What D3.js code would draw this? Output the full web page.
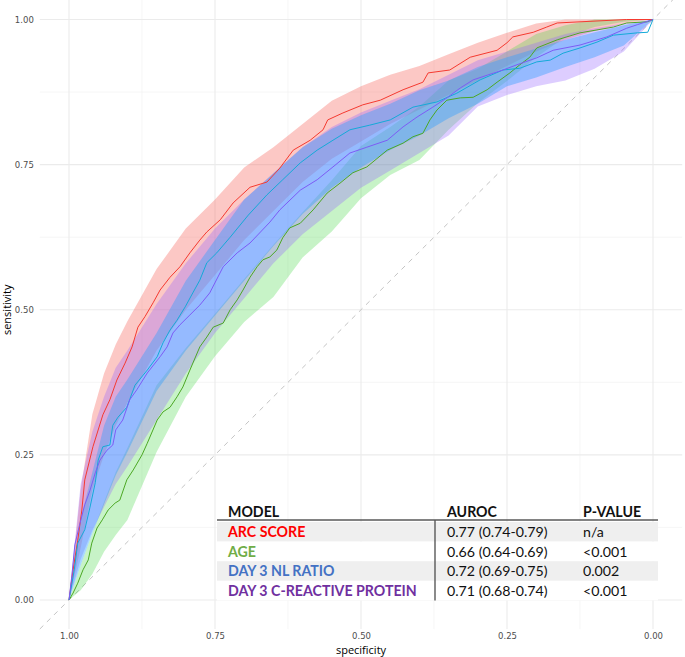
<!DOCTYPE html>
<html>
<head>
<meta charset="utf-8">
<script src="https://cdn.jsdelivr.net/npm/d3@7"></script>
<style>
  body { margin: 0; background: #fff; }
  svg { display: block; }
</style>
</head>
<body>
<svg id="chart" width="685" height="657"></svg>
<script>
// ROC curves (specificity, sensitivity)
const arcSpec = [1, .993, .985, .978, .973, .959, .942, .930, .918, .904, .892, .882, .870, .856, .844, .827, .810, .793, .776, .764, .741, .719, .690, .661, .639, .616, .587, .565, .557, .531, .497, .467, .428, .394, .385, .348, .313, .267, .250, .240, .205, .182, .164, .125, .045, 0];
const arcSens = [0, .052, .103, .155, .207, .264, .319, .345, .379, .408, .436, .470, .488, .512, .534, .556, .574, .598, .620, .634, .655, .684, .711, .720, .744, .775, .792, .810, .827, .839, .853, .861, .879, .892, .908, .913, .935, .947, .960, .970, .978, .987, .994, .996, 1, 1];

const ageSpec = [1, .993, .985, .976, .967, .961, .952, .943, .933, .921, .913, .901, .890, .875, .866, .849, .839, .827, .815, .805, .793, .776, .764, .753, .736, .724, .712, .702, .690, .678, .668, .656, .644, .634, .622, .604, .582, .558, .536, .514, .490, .455, .428, .411, .394, .382, .370, .353, .330, .308, .284, .267, .245, .228, .211, .199, .164, .125, .096, .068, .045, .010, 0];
const ageSens = [0, .012, .029, .052, .069, .098, .124, .138, .155, .167, .172, .207, .224, .250, .270, .310, .324, .332, .350, .367, .396, .436, .453, .470, .477, .500, .517, .534, .556, .574, .586, .591, .603, .624, .641, .649, .672, .701, .718, .736, .746, .775, .787, .798, .804, .827, .844, .861, .865, .866, .879, .892, .908, .922, .935, .951, .965, .977, .982, .987, .994, .996, 1];

const nlSpec = [1, .991, .985, .973, .964, .955, .950, .942, .930, .925, .916, .901, .887, .866, .849, .839, .827, .815, .801, .788, .776, .764, .747, .724, .693, .661, .634, .604, .575, .548, .519, .485, .450, .411, .370, .336, .296, .257, .228, .199, .176, .154, .125, .096, .068, .027, .009, 0];
const nlSens = [0, .052, .098, .121, .160, .202, .241, .264, .267, .301, .315, .332, .370, .396, .419, .443, .465, .482, .505, .529, .551, .581, .598, .625, .663, .698, .724, .753, .775, .792, .810, .818, .827, .849, .858, .873, .896, .913, .916, .927, .930, .942, .951, .961, .973, .977, .978, 1];

const crpSpec = [1, .995, .990, .982, .973, .964, .955, .947, .935, .925, .920, .908, .896, .884, .866, .844, .832, .822, .810, .793, .776, .759, .736, .712, .690, .656, .639, .604, .575, .548, .519, .490, .455, .428, .404, .377, .353, .330, .308, .284, .257, .233, .199, .171, .125, .079, .045, .027, 0];
const crpSens = [0, .043, .095, .129, .164, .189, .219, .241, .258, .267, .293, .310, .345, .362, .391, .419, .436, .460, .474, .491, .508, .529, .574, .598, .615, .651, .672, .706, .724, .746, .770, .780, .792, .815, .832, .849, .865, .882, .896, .904, .913, .922, .934, .947, .956, .970, .985, .991, 1];

// confidence bands (sensitivity bounds on a specificity grid)
const ciSpec = [1, .98, .96, .94, .92, .9, .85, .8, .75, .7, .65, .6, .55, .5, .45, .4, .35, .3, .25, .2, .15, .1, .05, 0];
const arcLo = [0, .09, .19, .25, .30, .34, .43, .50, .56, .62, .67, .72, .76, .79, .82, .845, .87, .895, .92, .945, .965, .98, .993, 1];
const arcHi = [0, .19, .32, .39, .44, .48, .57, .64, .69, .745, .78, .82, .86, .885, .905, .92, .94, .96, .977, .993, 1, 1, 1, 1];
const ageLo = [0, .017, .045, .083, .112, .138, .255, .35, .42, .479, .522, .59, .635, .692, .732, .758, .81, .856, .894, .935, .97, .987, .996, 1];
const ageHi = [0, .06, .115, .169, .22, .262, .37, .434, .493, .553, .612, .668, .723, .782, .815, .85, .895, .915, .945, .975, .99, 1, 1, 1];
const nlLo = [0, .06, .115, .165, .215, .255, .36, .43, .49, .55, .61, .665, .71, .745, .775, .80, .83, .855, .885, .9, .918, .935, .955, 1];
const nlHi = [0, .14, .22, .30, .35, .38, .46, .55, .62, .69, .735, .78, .812, .835, .855, .878, .895, .918, .935, .95, .965, .978, .99, 1];
const crpLo = [0, .07, .12, .16, .20, .23, .31, .39, .46, .52, .58, .63, .67, .71, .74, .77, .80, .85, .87, .885, .895, .915, .945, 1];
const crpHi = [0, .2, .29, .35, .40, .43, .51, .58, .64, .69, .735, .78, .815, .84, .86, .88, .905, .93, .945, .96, .975, .985, .993, 1];

// table content
const modelNames = ["ARC SCORE", "AGE", "DAY 3 NL RATIO", "DAY 3 C-REACTIVE PROTEIN"];
const aurocText = ["0.77 (0.74-0.79)", "0.66 (0.64-0.69)", "0.72 (0.69-0.75)", "0.71 (0.68-0.74)"];
const pValues = ["n/a", "<0.001", "0.002", "<0.001"];
const majorTicks = [0, 0.25, 0.5, 0.75, 1];
const minorTicks = [0.125, 0.375, 0.625, 0.875];

const series = [
  { spec: arcSpec, sens: arcSens, lo: arcLo, hi: arcHi, line: "#f53a30", fill: "rgba(248,118,109,0.40)", text: "#ff0000" },
  { spec: ageSpec, sens: ageSens, lo: ageLo, hi: ageHi, line: "#4ca824", fill: "rgba(70,215,70,0.30)", text: "#70ad47" },
  { spec: nlSpec, sens: nlSens, lo: nlLo, hi: nlHi, line: "#14aad8", fill: "rgba(50,160,255,0.42)", text: "#4472c4" },
  { spec: crpSpec, sens: crpSens, lo: crpLo, hi: crpHi, line: "#7d5cf5", fill: "rgba(150,100,255,0.32)", text: "#7030a0" }
];
// bands are stacked red, green, purple, blue (blue on top)
const bandOrder = [0, 1, 3, 2];

const svg = d3.select("#chart");

const x = d3.scaleLinear().domain([1, 0]).range([69, 653]);
const y = d3.scaleLinear().domain([0, 1]).range([600, 19.5]);
const panel = { left: x(1.05), right: x(-0.05), top: y(1.05), bottom: y(-0.05) };

// grid
const grid = svg.append("g").attr("class", "grid");
grid.selectAll(".vminor").data(minorTicks).join("line")
  .attr("x1", d => x(d)).attr("x2", d => x(d))
  .attr("y1", panel.top).attr("y2", panel.bottom)
  .attr("stroke", "#f2f2f2").attr("stroke-width", 0.7);
grid.selectAll(".hminor").data(minorTicks).join("line")
  .attr("y1", d => y(d)).attr("y2", d => y(d))
  .attr("x1", panel.left).attr("x2", panel.right)
  .attr("stroke", "#f2f2f2").attr("stroke-width", 0.7);
grid.selectAll(".vmajor").data(majorTicks).join("line")
  .attr("x1", d => x(d)).attr("x2", d => x(d))
  .attr("y1", panel.top).attr("y2", panel.bottom)
  .attr("stroke", "#ebebeb").attr("stroke-width", 1.1);
grid.selectAll(".hmajor").data(majorTicks).join("line")
  .attr("y1", d => y(d)).attr("y2", d => y(d))
  .attr("x1", panel.left).attr("x2", panel.right)
  .attr("stroke", "#ebebeb").attr("stroke-width", 1.1);

// chance diagonal
svg.append("line")
  .attr("x1", x(1.05)).attr("y1", y(-0.05))
  .attr("x2", x(-0.05)).attr("y2", y(1.05))
  .attr("stroke", "#c4c4c4").attr("stroke-width", 1)
  .attr("stroke-dasharray", "5,5");

// confidence bands
const area = d3.area().x(d => x(d[0])).y0(d => y(d[1])).y1(d => y(d[2]));
bandOrder.forEach(k => {
  const s = series[k];
  svg.append("path")
    .datum(ciSpec.map((v, i) => [v, s.lo[i], s.hi[i]]))
    .attr("fill", s.fill)
    .attr("stroke", "none")
    .attr("d", area);
});

// curves
const line = d3.line().x(d => x(d[0])).y(d => y(d[1]));
series.forEach(s => {
  svg.append("path")
    .datum(s.spec.map((v, i) => [v, s.sens[i]]))
    .attr("fill", "none")
    .attr("stroke", s.line)
    .attr("stroke-width", 1)
    .attr("d", line);
});

// axes
const fmt = d3.format(".2f");
svg.append("g")
  .attr("transform", `translate(0,${panel.bottom})`)
  .call(d3.axisBottom(x).tickValues(majorTicks).tickFormat(fmt).tickSize(0).tickPadding(4))
  .call(g => g.select(".domain").remove())
  .selectAll("text")
  .attr("fill", "#4d4d4d").style("font-family", "DejaVu Sans").style("font-size", "8.5px");

svg.append("g")
  .attr("transform", `translate(${panel.left},0)`)
  .call(d3.axisLeft(y).tickValues(majorTicks).tickFormat(fmt).tickSize(0).tickPadding(6))
  .call(g => g.select(".domain").remove())
  .selectAll("text")
  .attr("fill", "#4d4d4d").style("font-family", "DejaVu Sans").style("font-size", "8.5px");

svg.append("text")
  .attr("x", x(0.5)).attr("y", 654)
  .attr("text-anchor", "middle")
  .style("font-family", "Open Sans").style("font-size", "11px")
  .text("specificity");

svg.append("text")
  .attr("transform", `translate(11,${y(0.5)}) rotate(-90)`)
  .attr("text-anchor", "middle")
  .style("font-family", "Open Sans").style("font-size", "11px")
  .text("sensitivity");

// results table
const tbl = svg.append("g").attr("class", "table");
const tLeft = 217, tRight = 658, sepX = 435;
const colX = [228, 447, 583];
const headY = 517, rowTop = 522, rowH = 19.6;

tbl.selectAll(".rowbg").data(modelNames).join("rect")
  .attr("x", tLeft).attr("width", tRight - tLeft)
  .attr("y", (d, i) => rowTop + i * rowH).attr("height", rowH)
  .attr("fill", (d, i) => i % 2 === 0 ? "#efefef" : "#ffffff");

tbl.append("line")
  .attr("x1", tLeft).attr("x2", tRight).attr("y1", 520).attr("y2", 520)
  .attr("stroke", "#595959").attr("stroke-width", 1.4);
tbl.append("line")
  .attr("x1", sepX).attr("x2", sepX).attr("y1", 520).attr("y2", rowTop + 4 * rowH)
  .attr("stroke", "#595959").attr("stroke-width", 1.4);

tbl.selectAll(".head").data(["MODEL", "AUROC", "P-VALUE"]).join("text")
  .attr("x", (d, i) => colX[i]).attr("y", headY)
  .style("font-family", "Lato").style("font-weight", "bold").style("font-size", "14.2px")
  .attr("fill", "#111").text(d => d);

tbl.selectAll(".name").data(modelNames).join("text")
  .attr("x", colX[0]).attr("y", (d, i) => rowTop + i * rowH + 15)
  .style("font-family", "Lato").style("font-weight", "bold").style("font-size", "14.2px")
  .attr("fill", (d, i) => series[i].text).text(d => d);

tbl.selectAll(".auc").data(aurocText).join("text")
  .attr("x", colX[1]).attr("y", (d, i) => rowTop + i * rowH + 15)
  .style("font-family", "Lato").style("font-size", "14.2px")
  .attr("fill", "#111").text(d => d);

tbl.selectAll(".pv").data(pValues).join("text")
  .attr("x", colX[2]).attr("y", (d, i) => rowTop + i * rowH + 15)
  .style("font-family", "Lato").style("font-size", "14.2px")
  .attr("fill", "#111").text(d => d);
</script>
</body>
</html>
